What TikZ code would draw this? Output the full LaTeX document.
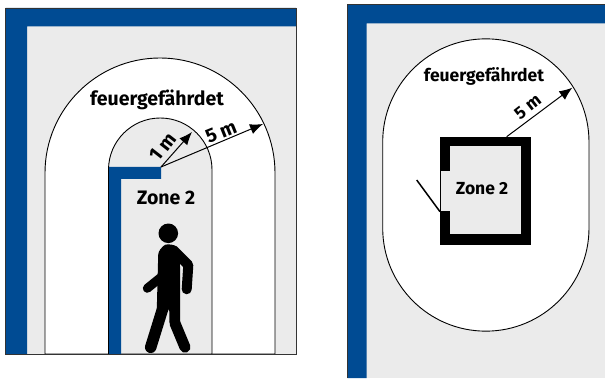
\documentclass[tikz,border=0pt]{standalone}
\usepackage{fontspec}
\setmainfont{Fira Sans}
\usetikzlibrary{arrows.meta}
\definecolor{wallblue}{HTML}{004B93}
\definecolor{zonegrey}{HTML}{EBEBEB}
\tikzset{
  radius arrow/.style={-{Latex[length=13pt,width=10.5pt]}, line width=1pt},
  big label/.style={font=\bfseries\fontsize{19.5}{22}\selectfont, inner sep=0pt},
  small label/.style={font=\bfseries\fontsize{17.5}{20}\selectfont, inner sep=0pt},
  limb/.style={line cap=round, line join=round, draw=black},
}

\begin{document}
\begin{tikzpicture}[x=1pt, y=1pt]
  \useasboundingbox (0, 0) rectangle (605, 378);

  % linker Raum
  \fill[zonegrey] (5.5, 24) rectangle (296, 370);
  \fill[wallblue] (5.5, 24) -- (5.5, 370) -- (296, 370) -- (296, 351.5) -- (27, 351.5) -- (27, 24) -- cycle;

  % Bereiche
  \draw[fill=white, line width=0.9pt] (45, 24) -- (45, 205) arc (180:0:115) -- (275, 24) -- cycle;
  \draw[fill=zonegrey, line width=0.9pt] (108.5, 24) -- (108.5, 208.25) arc (180:0:51.75) -- (212, 24) -- cycle;

  % Wand
  \fill[wallblue] (109, 24) -- (109, 211) -- (161, 211) -- (161, 199) -- (121, 199) -- (121, 24) -- cycle;
  \draw[line width=0.8pt, draw=black!80] (5.5, 24) rectangle (296, 370);

  % Person
  \fill[black] (168.3, 144.7) circle (9.8);
  \fill[black, rounded corners=3pt] (158.3, 126.3) -- (165, 134) -- (175, 133) -- (180, 114.7) -- (180, 53)
    -- (169.3, 53) -- (169.3, 69.7) -- (156.7, 64.7) -- cycle;
  \draw[limb, line width=10pt] (173.3, 128) -- (188.3, 113) -- (186.7, 88.7);
  \draw[limb, line width=9pt] (161.7, 101.3) -- (147.3, 89.7);
  \draw[limb, line width=11.5pt] (163.3, 71.3) -- (150.7, 30.7);
  \draw[limb, line width=11pt] (175, 54.7) -- (185, 30.7);

  % Radien
  \coordinate (apex) at (161, 211);
  \coordinate (inner end) at (192, 246);
  \coordinate (outer end) at (263, 254);
  \draw[radius arrow] (apex) -- (inner end);
  \draw[radius arrow] (apex) -- (outer end);

  \node[big label] (fire left) at (157, 278) {feuergefährdet};
  \node[big label] (zone left) at (166, 180) {Zone 2};
  \node[big label, rotate=52] (one m) at (163, 231) {1 m};
  \node[big label, rotate=22] (five m left) at (221, 246) {5 m};

  % rechter Raum
  \fill[zonegrey] (347.5, 0) rectangle (605, 373.5);
  \fill[wallblue] (347.5, 0) -- (347.5, 373.5) -- (605, 373.5) -- (605, 354.5) -- (366.5, 354.5) -- (366.5, 0) -- cycle;
  \draw[line width=0.8pt, draw=black!80] (347.5, 0) -- (347.5, 373.5) -- (605, 373.5);

  \draw[fill=white, line width=0.9pt] (382.7, 150) -- (382.7, 236) arc (180:0:103.15) -- (589, 150) arc (0:-180:103.15) -- cycle;

  % Raum mit Tuer
  \fill[black] (439.5, 133) rectangle (531.3, 241.3);
  \fill[zonegrey] (450, 144) rectangle (520.7, 231.5);
  \fill[zonegrey] (440.5, 167) rectangle (450.5, 207);

  \coordinate (door hinge) at (440, 166.3);
  \coordinate (door end) at (416.7, 198);
  \draw[line width=1.5pt] (door hinge) -- (door end);

  \coordinate (room top) at (506.7, 241.3);
  \coordinate (oval end) at (572.3, 290.3);
  \draw[radius arrow] (room top) -- (oval end);

  \node[small label] (fire right) at (484, 301.5) {feuergefährdet};
  \node[small label] (zone right) at (482, 189) {Zone 2};
  \node[small label, rotate=38] (five m right) at (527.7, 271) {5 m};
\end{tikzpicture}
\end{document}
